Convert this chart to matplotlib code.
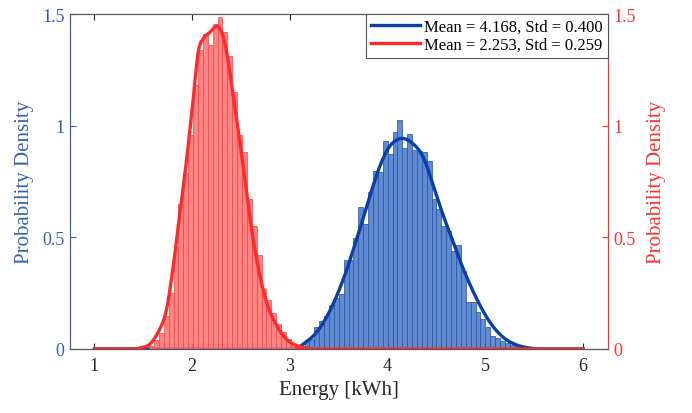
import numpy as np
import matplotlib
matplotlib.use("Agg")
import matplotlib.pyplot as plt

# ---------------- data ----------------
bin_width = 0.05

red_start = 1.56
red_density = [0.015, 0.04, 0.07, 0.15, 0.25, 0.46, 0.65, 0.79, 0.96, 1.18,
               1.34, 1.41, 1.36, 1.455, 1.485, 1.42, 1.31, 1.15, 0.96, 0.88,
               0.67, 0.55, 0.42, 0.27, 0.22, 0.16, 0.11, 0.075, 0.045, 0.02,
               0.01]

blue_start = 3.10
blue_density = [0.015, 0.037, 0.045, 0.10, 0.127, 0.149, 0.199, 0.227, 0.246,
                0.40, 0.40, 0.496, 0.634, 0.56, 0.704, 0.799, 0.791, 0.93,
                0.873, 0.970, 1.025, 0.899, 0.963, 0.893, 0.888, 0.881, 0.843,
                0.672, 0.627, 0.552, 0.530, 0.440, 0.466, 0.351, 0.209, 0.209,
                0.164, 0.134, 0.097, 0.060, 0.048, 0.037, 0.027, 0.018, 0.012,
                0.007, 0.004]

red_curve_x = [1.0, 1.40, 1.466, 1.568, 1.670, 1.739, 1.807, 1.875, 1.944, 2.011,
               2.062, 2.114, 2.182, 2.251, 2.302, 2.353, 2.421, 2.489, 2.558,
               2.625, 2.694, 2.763, 2.830, 2.932, 3.035, 3.172, 3.30, 6.0]
red_curve_y = [0.0, 0.0, 0.005, 0.022, 0.09, 0.18, 0.373, 0.61, 0.85, 1.12,
               1.33, 1.39, 1.418, 1.445, 1.418, 1.33, 1.134, 0.925, 0.70,
               0.49, 0.328, 0.209, 0.134, 0.06, 0.022, 0.003, 0.0, 0.0]

blue_curve_x = [1.0, 2.95, 3.070, 3.137, 3.274, 3.410, 3.547, 3.684, 3.820, 3.922,
                4.025, 4.144, 4.263, 4.365, 4.468, 4.570, 4.672, 4.775, 4.912,
                5.048, 5.184, 5.321, 5.457, 5.60, 6.0]
blue_curve_y = [0.0, 0.0, 0.007, 0.022, 0.075, 0.172, 0.313, 0.493, 0.687, 0.82,
                0.91, 0.943, 0.918, 0.858, 0.731, 0.597, 0.478, 0.358, 0.224,
                0.119, 0.052, 0.018, 0.004, 0.0, 0.0]

blue_label = "Mean = 4.168, Std = 0.400"
red_label = "Mean = 2.253, Std = 0.259"
x_ticks = [1, 2, 3, 4, 5, 6]
y_ticks = [0, 0.5, 1, 1.5]
y_ticklabels = ["0", "0.5", "1", "1.5"]


def smooth(xs, ys, n=12):
    """Catmull-Rom interpolation through the read points (drawing only)."""
    xs = np.asarray(xs, float)
    ys = np.asarray(ys, float)
    px = np.concatenate([[xs[0]], xs, [xs[-1]]])
    py = np.concatenate([[ys[0]], ys, [ys[-1]]])
    ox, oy = [], []
    for i in range(1, len(px) - 2):
        t = np.linspace(0, 1, n, endpoint=False)
        for arr, out in ((px, ox), (py, oy)):
            p0, p1, p2, p3 = arr[i - 1], arr[i], arr[i + 1], arr[i + 2]
            out.extend(0.5 * ((2 * p1) + (-p0 + p2) * t
                              + (2 * p0 - 5 * p1 + 4 * p2 - p3) * t ** 2
                              + (-p0 + 3 * p1 - 3 * p2 + p3) * t ** 3))
    ox.append(xs[-1])
    oy.append(ys[-1])
    return np.array(ox), np.clip(np.array(oy), 0, None)


# ---------------- style ----------------
plt.rcParams['font.family'] = ['Liberation Serif', 'DejaVu Serif']
BLUE_AX = '#3560B0'
RED_AX = '#FF3030'
BLUE_FACE = '#4F7FCC'
BLUE_EDGE = '#2A56A6'
BLUE_LINE = '#0A3FA6'
RED_FACE = '#FF6E6E'
RED_EDGE = '#F04848'
RED_LINE = '#FF2A2A'
TXT = '#262626'

fig = plt.figure(figsize=(6.92, 4.14), dpi=100)
ax1 = fig.add_axes([70 / 692, 1 - 350 / 414, (607.5 - 70) / 692, (350 - 15) / 414])
ax2 = ax1.twinx()

blue_edges = blue_start + bin_width * np.arange(len(blue_density))
red_edges = red_start + bin_width * np.arange(len(red_density))

ax1.bar(blue_edges, blue_density, width=bin_width, align='edge',
        color=BLUE_FACE, alpha=0.9, edgecolor=BLUE_EDGE, linewidth=0.6, zorder=2)
bx, by = smooth(blue_curve_x, blue_curve_y)
lb, = ax1.plot(bx, by, color=BLUE_LINE, lw=2.4, zorder=3)

ax2.bar(red_edges, red_density, width=bin_width, align='edge',
        color=RED_FACE, alpha=0.85, edgecolor=RED_EDGE, linewidth=0.6, zorder=2)
rx, ry = smooth(red_curve_x, red_curve_y)
lr, = ax2.plot(rx, ry, color=RED_LINE, lw=2.4, zorder=3)

for ax in (ax1, ax2):
    ax.set_xlim(0.75, 6.25)
    ax.set_ylim(0, 1.5)
    ax.set_yticks(y_ticks)
    ax.set_yticklabels(y_ticklabels)

ax1.set_xticks(x_ticks)
ax1.tick_params(axis='x', direction='in', top=True, length=4, width=0.8,
                colors=TXT, labelsize=13, pad=6)
ax1.tick_params(axis='y', direction='in', length=4, width=0.8,
                colors=BLUE_AX, labelsize=13, pad=4)
ax2.tick_params(axis='y', direction='in', length=4, width=0.8,
                colors=RED_AX, labelsize=13, pad=4)

for ax in (ax1, ax2):
    ax.spines['top'].set_color('#555555')
    ax.spines['bottom'].set_color('#555555')
    ax.spines['left'].set_color(BLUE_AX)
    ax.spines['right'].set_color(RED_AX)
    for s in ax.spines.values():
        s.set_linewidth(0.8)

ax1.set_xlabel('Energy [kWh]', fontsize=15, color=TXT, labelpad=4)
ax1.set_ylabel('Probability Density', fontsize=15, color=BLUE_AX, labelpad=6)
ax2.set_ylabel('Probability Density', fontsize=15, color=RED_AX, labelpad=8)

leg = ax2.legend([lb, lr], [blue_label, red_label], loc='upper right',
                 borderaxespad=0.0, fontsize=12, handlelength=2.9,
                 handletextpad=0.25, labelspacing=0.1, borderpad=0.3,
                 fancybox=False, framealpha=1.0)
leg.get_frame().set_edgecolor('#555555')
leg.get_frame().set_linewidth(0.8)

fig.savefig('out.png', dpi=100)
